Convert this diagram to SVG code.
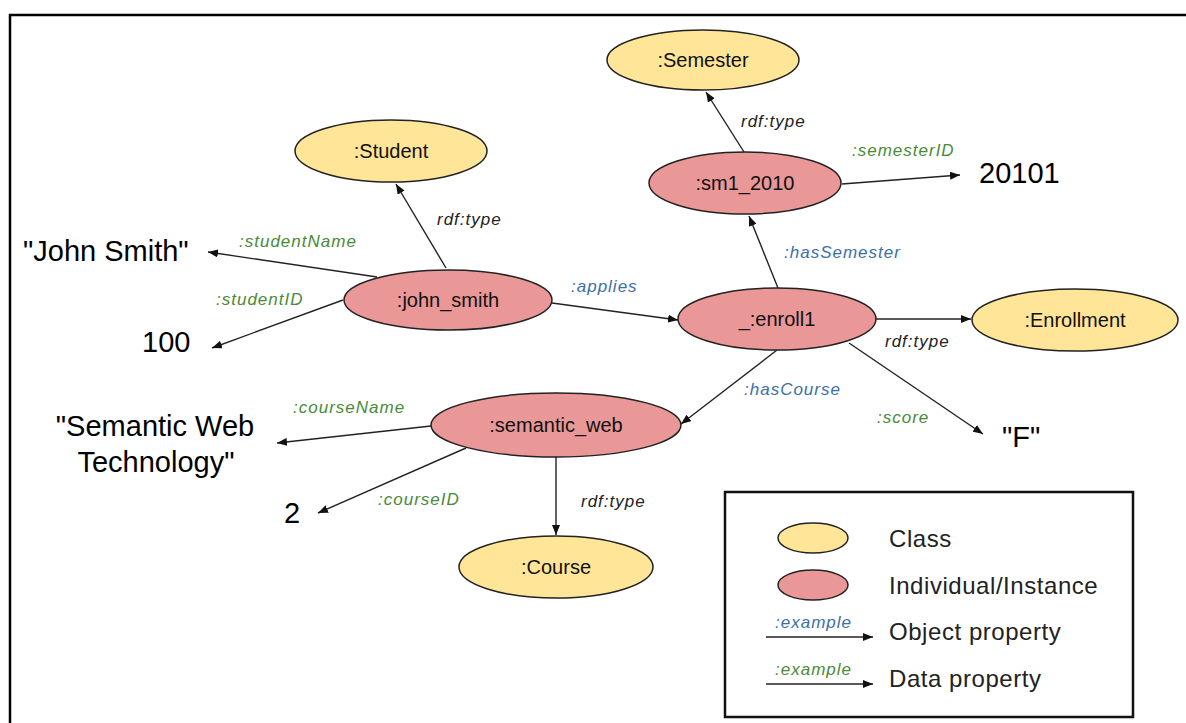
<svg xmlns="http://www.w3.org/2000/svg" width="1186" height="723" viewBox="0 0 1186 723">
<defs>
<marker id="arr" viewBox="0 0 10 8" refX="10" refY="4" markerWidth="10" markerHeight="8" markerUnits="userSpaceOnUse" orient="auto">
<path d="M0,0 L10,4 L0,8 Z" fill="#111"/>
</marker>
<style>
.cls{fill:#FFE597;stroke:#222;stroke-width:1.5}
.ind{fill:#E99797;stroke:#222;stroke-width:1.5}
.nl{font-family:"Liberation Sans",Arial,sans-serif;font-size:20px;fill:#111;text-anchor:middle}
.lit{font-family:"Liberation Sans",Arial,sans-serif;font-size:29px;fill:#000}
.e{stroke:#222;stroke-width:1.4;fill:none;marker-end:url(#arr)}
.el{font-family:"Liberation Sans",Arial,sans-serif;font-size:17px;font-style:italic;letter-spacing:1px}
.ty{fill:#222}
.ob{fill:#3B6FA8}
.dp{fill:#4A8A38}
.lg{font-family:"Liberation Sans",Arial,sans-serif;font-size:24px;fill:#222;letter-spacing:0.55px}
</style>
</defs>
<rect x="0" y="0" width="1186" height="723" fill="#fff"/>
<rect x="10" y="15" width="1200" height="730" fill="none" stroke="#000" stroke-width="2.5"/>

<g id="connectors">
<line class="e" x1="446" y1="268" x2="396" y2="184"/>
<line class="e" x1="377" y1="277" x2="208" y2="252"/>
<line class="e" x1="343" y1="300" x2="212" y2="348"/>
<line class="e" x1="552" y1="303" x2="678" y2="320"/>
<line class="e" x1="778" y1="288" x2="749" y2="216"/>
<line class="e" x1="744" y1="152" x2="706" y2="92"/>
<line class="e" x1="842" y1="184" x2="960" y2="175"/>
<line class="e" x1="876" y1="319" x2="971" y2="319"/>
<line class="e" x1="777" y1="350" x2="681" y2="424"/>
<line class="e" x1="849" y1="343" x2="983" y2="434"/>
<line class="e" x1="431" y1="426" x2="277" y2="443"/>
<line class="e" x1="466" y1="448" x2="318" y2="513"/>
<line class="e" x1="556" y1="457" x2="556" y2="535"/>
<text class="el ty" x="437" y="225">rdf:type</text>
<text class="el dp" x="239" y="247">:studentName</text>
<text class="el dp" x="216" y="305">:studentID</text>
<text class="el ob" x="571" y="292">:applies</text>
<text class="el ob" x="784" y="258">:hasSemester</text>
<text class="el ty" x="741" y="127">rdf:type</text>
<text class="el dp" x="852" y="156">:semesterID</text>
<text class="el ty" x="885" y="347">rdf:type</text>
<text class="el ob" x="744" y="395">:hasCourse</text>
<text class="el dp" x="877" y="423">:score</text>
<text class="el dp" x="293" y="413">:courseName</text>
<text class="el dp" x="378" y="505">:courseID</text>
<text class="el ty" x="581" y="507">rdf:type</text>
</g>

<g id="semester"><ellipse class="cls" cx="703" cy="60" rx="96" ry="30"/><text class="nl" x="703" y="67">:Semester</text></g>
<g id="student"><ellipse class="cls" cx="391" cy="151" rx="96" ry="31"/><text class="nl" x="391" y="158">:Student</text></g>
<g id="sm1_2010"><ellipse class="ind" cx="745" cy="183" rx="96" ry="31"/><text class="nl" x="745" y="190">:sm1_2010</text></g>
<g id="john_smith"><ellipse class="ind" cx="448" cy="300" rx="104" ry="30"/><text class="nl" x="448" y="307">:john_smith</text></g>
<g id="enroll1"><ellipse class="ind" cx="777" cy="319" rx="99" ry="31"/><text class="nl" x="777" y="326">_:enroll1</text></g>
<g id="enrollment"><ellipse class="cls" cx="1075" cy="320" rx="103" ry="31"/><text class="nl" x="1075" y="327">:Enrollment</text></g>
<g id="semantic_web"><ellipse class="ind" cx="556" cy="425" rx="125" ry="32"/><text class="nl" x="556" y="432">:semantic_web</text></g>
<g id="course"><ellipse class="cls" cx="556" cy="567" rx="97" ry="31"/><text class="nl" x="556" y="574">:Course</text></g>

<g id="lit_johnsmith"><text class="lit" x="23" y="261">"John Smith"</text></g>
<g id="lit_100"><text class="lit" x="142" y="352">100</text></g>
<g id="lit_20101"><text class="lit" x="979" y="183">20101</text></g>
<g id="lit_F"><text class="lit" x="1002" y="447">"F"</text></g>
<g id="lit_swt"><text class="lit" x="155" y="436" text-anchor="middle">"Semantic Web</text><text class="lit" x="156" y="472" text-anchor="middle">Technology"</text></g>
<g id="lit_2"><text class="lit" x="284" y="523">2</text></g>

<g id="legend">
<rect x="725" y="492" width="408" height="225" fill="#fff" stroke="#111" stroke-width="2.5"/>
<ellipse class="cls" cx="813" cy="538" rx="35" ry="15"/>
<ellipse class="ind" cx="813" cy="585" rx="35" ry="15"/>
<text class="lg" x="889" y="547">Class</text>
<text class="lg" x="889" y="594">Individual/Instance</text>
<text class="el ob" x="775" y="628">:example</text>
<line class="e" x1="766" y1="637" x2="873" y2="637"/>
<text class="lg" x="889" y="640">Object property</text>
<text class="el dp" x="775" y="675">:example</text>
<line class="e" x1="766" y1="684" x2="873" y2="684"/>
<text class="lg" x="889" y="687">Data property</text>
</g>
</svg>
